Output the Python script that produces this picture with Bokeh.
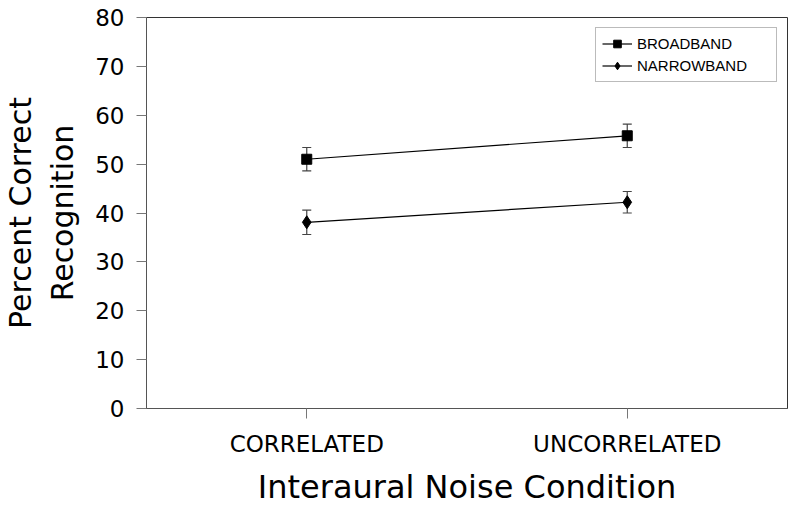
from bokeh.plotting import figure
from bokeh.models import ColumnDataSource, Whisker, Legend, LegendItem, FactorRange
from bokeh.embed import file_html
from bokeh.resources import INLINE

conditions = ["CORRELATED", "UNCORRELATED"]
broadband = [51.0, 55.8]
broadband_err = [2.4, 2.4]
narrowband = [38.1, 42.2]
narrowband_err = [2.5, 2.2]

FONT = "DejaVu Sans"

p = figure(width=792, height=508, x_range=FactorRange(*conditions, range_padding=0),
           y_range=(0, 80), output_backend="svg", toolbar_location=None,
           min_border_left=146, min_border_top=17, min_border_right=5, min_border_bottom=98)
p.outline_line_color = "#333333"
p.outline_line_width = 1
p.xgrid.visible = False
p.ygrid.visible = False

src_b = ColumnDataSource(dict(x=conditions, y=broadband,
                              lo=[v - e for v, e in zip(broadband, broadband_err)],
                              hi=[v + e for v, e in zip(broadband, broadband_err)]))
src_n = ColumnDataSource(dict(x=conditions, y=narrowband,
                              lo=[v - e for v, e in zip(narrowband, narrowband_err)],
                              hi=[v + e for v, e in zip(narrowband, narrowband_err)]))

for src in (src_b, src_n):
    w = Whisker(source=src, base="x", lower="lo", upper="hi", line_color="#444444", line_width=1.2)
    for h in (w.upper_head, w.lower_head):
        h.size = 9
        h.line_color = "#444444"
        h.line_width = 1.2
    p.add_layout(w)

lb = p.line("x", "y", source=src_b, line_color="black", line_width=1.2)
mb = p.scatter("x", "y", source=src_b, marker="square", size=10, color="black")
ln = p.line("x", "y", source=src_n, line_color="black", line_width=1.2)
mn = p.scatter("x", "y", source=src_n, marker="diamond", size=13, color="black")

legend = Legend(items=[LegendItem(label="BROADBAND", renderers=[lb, mb]),
                       LegendItem(label="NARROWBAND", renderers=[ln, mn])],
                location="top_right")
legend.label_text_font = "Liberation Sans"
legend.label_text_font_size = "15px"
legend.label_text_color = "black"
legend.border_line_color = "#777777"
legend.border_line_width = 1
legend.glyph_width = 30
legend.spacing = 3
legend.padding = 6
legend.margin = 10
legend.label_standoff = 5
legend.label_height = 19
legend.glyph_height = 19
legend.label_width = 133
p.add_layout(legend)

p.yaxis.ticker = [0, 10, 20, 30, 40, 50, 60, 70, 80]
p.yaxis.major_label_text_font = FONT
p.yaxis.major_label_text_font_size = "23px"
p.yaxis.major_label_text_color = "black"
p.yaxis.major_label_standoff = 12
p.yaxis.major_tick_out = 10
p.yaxis.major_tick_in = 0
p.yaxis.minor_tick_line_color = None
p.yaxis.axis_line_color = "#555555"
p.yaxis.major_tick_line_color = "#777777"
p.yaxis.axis_label = "Percent Correct\nRecognition"
p.yaxis.axis_label_text_font = FONT
p.yaxis.axis_label_text_font_size = "30px"
p.yaxis.axis_label_text_font_style = "normal"
p.yaxis.axis_label_text_color = "black"
p.yaxis.axis_label_standoff = 12

p.xaxis.major_label_text_font = FONT
p.xaxis.major_label_text_font_size = "23px"
p.xaxis.major_label_text_color = "black"
p.xaxis.major_tick_out = 10
p.xaxis.major_tick_in = 0
p.xaxis.major_label_standoff = 12
p.xaxis.axis_line_color = "#555555"
p.xaxis.major_tick_line_color = "#777777"
p.xaxis.axis_label = "Interaural Noise Condition"
p.xaxis.axis_label_text_font = FONT
p.xaxis.axis_label_text_font_size = "32px"
p.xaxis.axis_label_text_font_style = "normal"
p.xaxis.axis_label_text_color = "black"
p.xaxis.axis_label_standoff = 8

open("out.html", "w").write(file_html(p, INLINE))
